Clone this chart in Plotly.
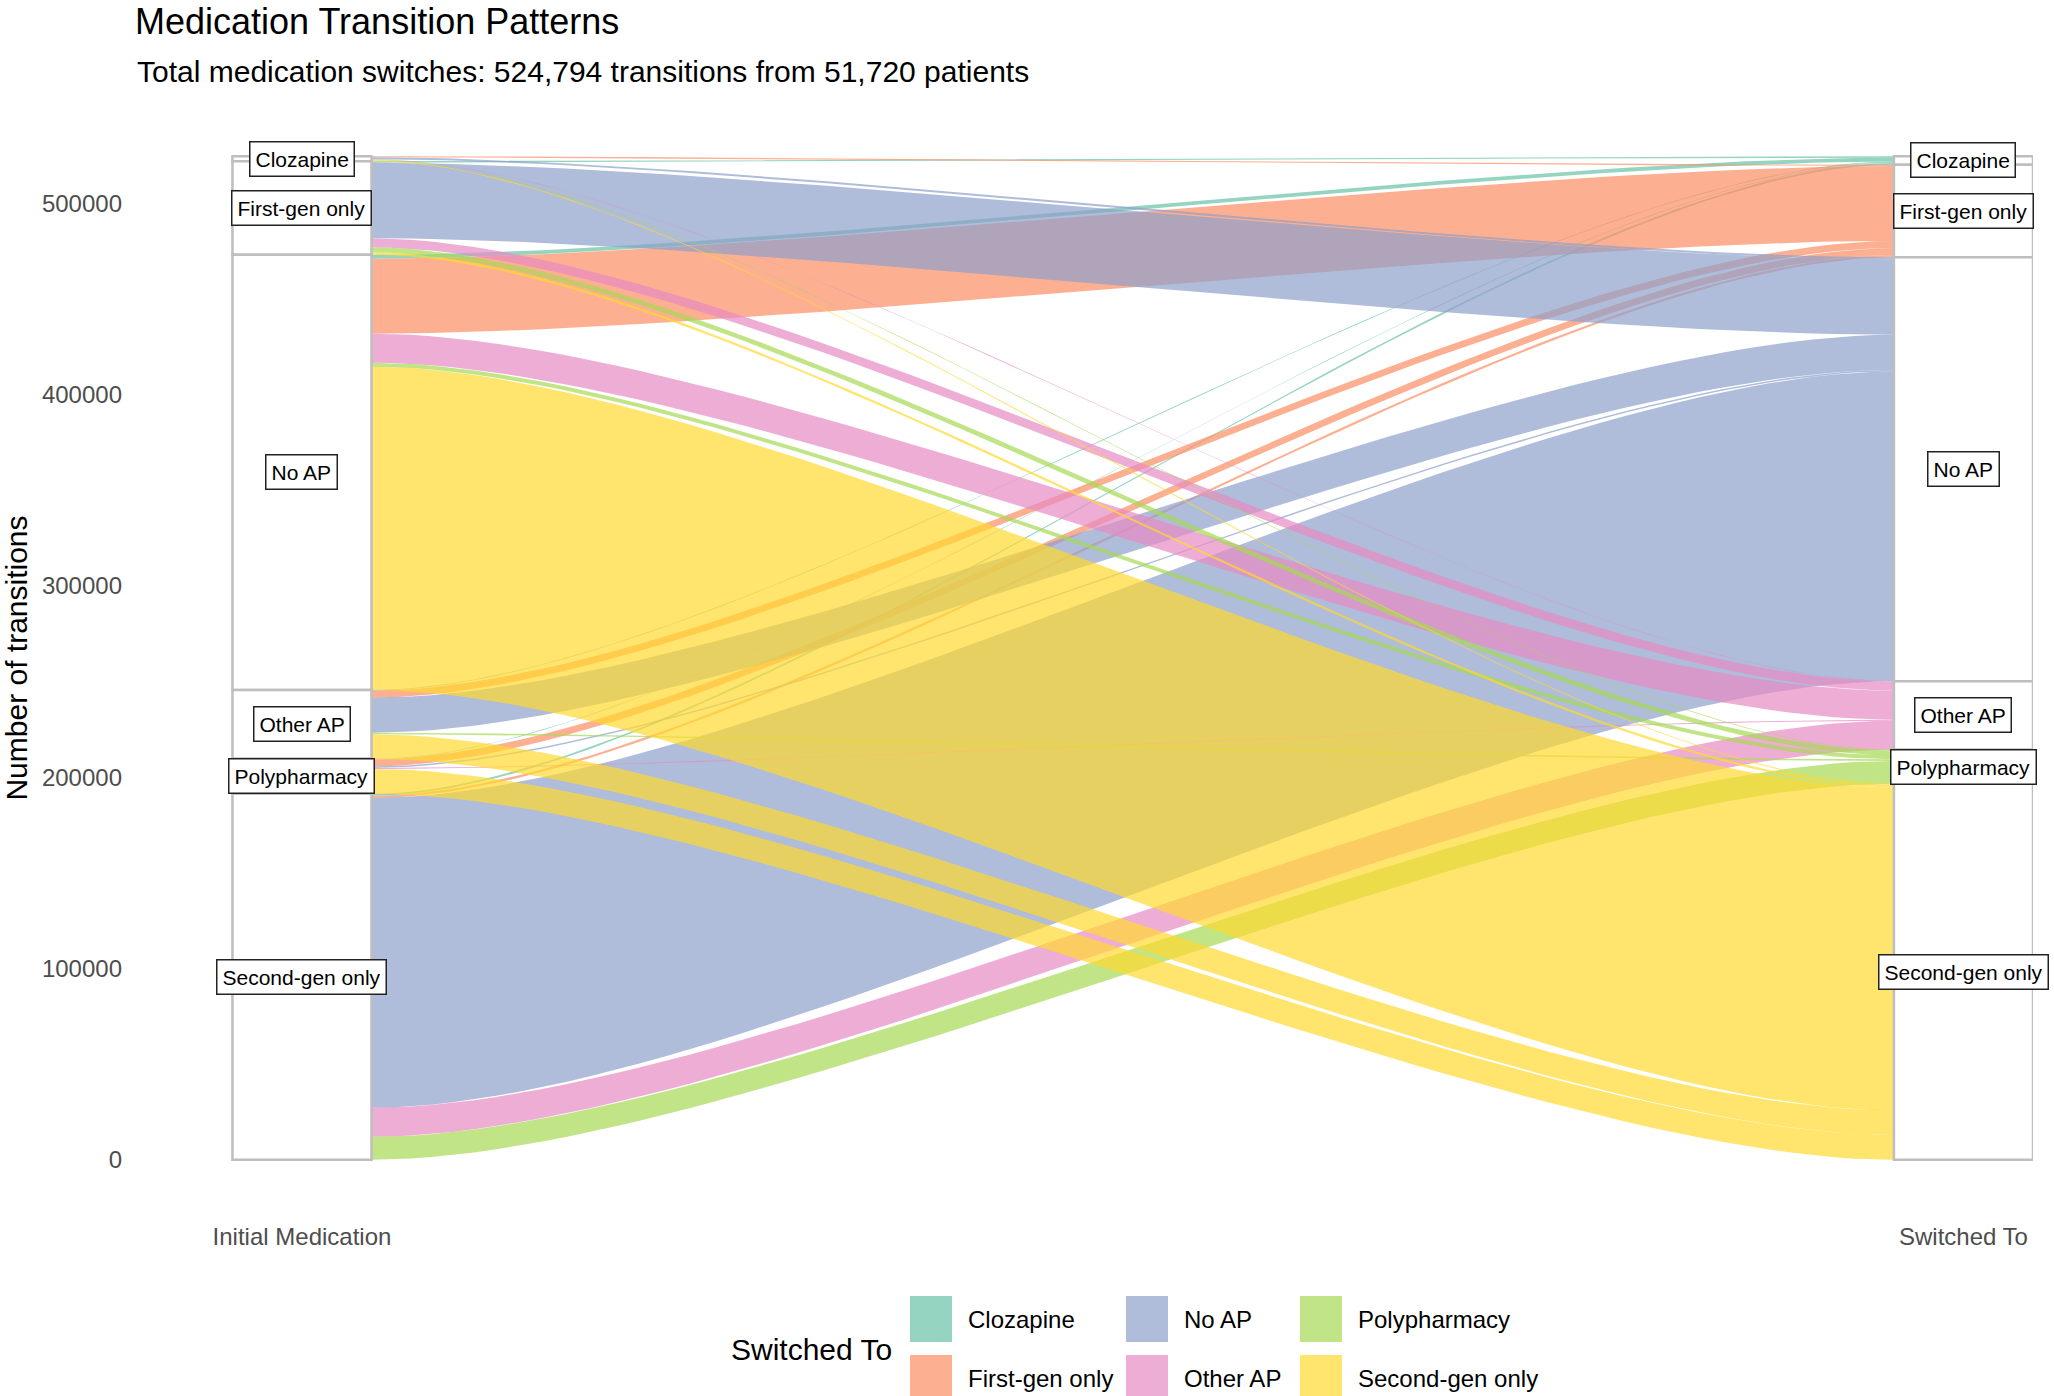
import plotly.graph_objects as go

# ---------------- data ----------------
categories = ["Clozapine", "First-gen only", "No AP", "Other AP", "Polypharmacy", "Second-gen only"]
colors = ["#66C2A5", "#FC8D62", "#8DA0CB", "#E78AC3", "#A6D854", "#FFD92F"]

# transitions from each initial medication to each "switched to" category (order = categories)
from_clozapine = [0, 600, 1000, 200, 300, 500]
from_first_gen = [800, 0, 39500, 4800, 2600, 1300]
from_no_ap = [2000, 39200, 0, 15200, 2100, 169000]
from_other_ap = [400, 3700, 18300, 0, 800, 12800]
from_polypharmacy = [300, 3700, 800, 500, 0, 13000]
from_second_gen = [1000, 1200, 162000, 15200, 12000, 0]

axis_labels = ["Initial Medication", "Switched To"]
y_ticks = [0, 100000, 200000, 300000, 400000, 500000]

title_text = "Medication Transition Patterns"
subtitle_text = "Total medication switches: 524,794 transitions from 51,720 patients"
legend_title = "Switched To"
legend_rows = [["Clozapine", "No AP", "Polypharmacy"],
               ["First-gen only", "Other AP", "Second-gen only"]]

# ---------------- geometry helpers ----------------
rows = [from_clozapine, from_first_gen, from_no_ap, from_other_ap, from_polypharmacy, from_second_gen]
n = len(categories)
W = 0.0837  # stratum width (x units)
total = sum(sum(r) for r in rows)
src_tot = [sum(r) for r in rows]
tgt_tot = [sum(rows[i][j] for i in range(n)) for j in range(n)]


def stack_tops(tots):
    out, cur = [], total
    for v in tots:
        out.append(cur)
        cur -= v
    return out


src_top = stack_tops(src_tot)
tgt_top = stack_tops(tgt_tot)

left_top = {}
for i in range(n):
    cur = src_top[i]
    for j in range(n):
        left_top[(i, j)] = cur
        cur -= rows[i][j]
right_top = {}
for j in range(n):
    cur = tgt_top[j]
    for i in range(n):
        right_top[(i, j)] = cur
        cur -= rows[i][j]


def rgba(hexc, a):
    h = hexc.lstrip("#")
    r, g, b = int(h[0:2], 16), int(h[2:4], 16), int(h[4:6], 16)
    return f"rgba({r},{g},{b},{a})"


def curve(x0, y0, x1, y1, k=0.25, m=60):
    xs, ys = [], []
    dx = x1 - x0
    for s in range(m + 1):
        t = s / m
        bx = 3 * k * t * (1 - t) ** 2 + 3 * (1 - k) * t ** 2 * (1 - t) + t ** 3
        by = 3 * t ** 2 - 2 * t ** 3
        xs.append(x0 + dx * bx)
        ys.append(y0 + (y1 - y0) * by)
    return xs, ys


fig = go.Figure()
xL, xR = 1 + W / 2, 2 - W / 2
for j in range(n):
    for i in range(n):
        v = rows[i][j]
        if v <= 0:
            continue
        lt, rt = left_top[(i, j)], right_top[(i, j)]
        ux, uy = curve(xL, lt, xR, rt)
        bx, by = curve(xL, lt - v, xR, rt - v)
        xs = ux + bx[::-1] + [ux[0]]
        ys = uy + by[::-1] + [uy[0]]
        fig.add_trace(go.Scatter(
            x=xs, y=ys, mode="lines", fill="toself",
            fillcolor=rgba(colors[j], 0.7), line=dict(width=0),
            hoverinfo="text", text=f"{categories[i]} → {categories[j]}: {v:,}",
            showlegend=False))

# strata
shapes = []
annotations = []
for side, (tops, tots) in enumerate([(src_top, src_tot), (tgt_top, tgt_tot)]):
    xc = 1 + side
    for k in range(n):
        shapes.append(dict(type="rect", xref="x", yref="y",
                           x0=xc - W / 2, x1=xc + W / 2, y0=tops[k] - tots[k], y1=tops[k],
                           line=dict(color="#BEBEBE", width=2.5), fillcolor="white", layer="above"))
        annotations.append(dict(x=xc, y=tops[k] - tots[k] / 2, xref="x", yref="y",
                                text=categories[k], showarrow=False,
                                font=dict(size=21, color="black"),
                                bgcolor="white", bordercolor="#222222", borderwidth=1.5,
                                borderpad=5))

# pixel -> paper helpers for layout placement
PL, PR, PT, PB = 135, 2033, 106, 1210


def px_x(x):
    return (x - PL) / (PR - PL)


def px_y(y):
    return (PB - y) / (PB - PT)


# subtitle
annotations.append(dict(x=0, y=px_y(71), xref="paper", yref="paper", xanchor="left", yanchor="middle",
                        text=subtitle_text, showarrow=False, font=dict(size=30, color="black")))

# manual legend
col_x = [910, 1126, 1300]
row_y = [1319, 1378]
for r, names in enumerate(legend_rows):
    for c, name in enumerate(names):
        idx = categories.index(name)
        shapes.append(dict(type="rect", xref="paper", yref="paper",
                           x0=px_x(col_x[c]), x1=px_x(col_x[c] + 42),
                           y0=px_y(row_y[r] + 23), y1=px_y(row_y[r] - 23),
                           line=dict(width=0), fillcolor=rgba(colors[idx], 0.7), layer="above"))
        annotations.append(dict(x=px_x(col_x[c] + 56), y=px_y(row_y[r]), xref="paper", yref="paper",
                                xanchor="left", yanchor="middle", text=name, showarrow=False,
                                font=dict(size=24, color="black")))
annotations.append(dict(x=px_x(729), y=px_y(1349), xref="paper", yref="paper",
                        xanchor="left", yanchor="middle", text=legend_title, showarrow=False,
                        font=dict(size=30, color="black")))

pad = total * 0.05
fig.update_layout(
    width=2054, height=1396,
    margin=dict(l=PL, r=2054 - PR, t=PT, b=1396 - PB),
    paper_bgcolor="white", plot_bgcolor="white",
    font=dict(family="Liberation Sans, Arial, sans-serif", color="black"),
    title=dict(text=title_text, x=0, xref="paper", xanchor="left",
               y=1 - 21 / 1396, yref="container", yanchor="middle",
               font=dict(size=36, color="black")),
    showlegend=False,
    shapes=shapes, annotations=annotations,
    xaxis=dict(range=[1 - 0.1005, 2 + W / 2], tickvals=[1, 2], ticktext=axis_labels,
               showgrid=False, zeroline=False, showline=False, ticks="",
               ticklabelstandoff=10, tickfont=dict(size=24, color="#4D4D4D")),
    yaxis=dict(range=[-pad, total + pad], tickvals=y_ticks, ticktext=[str(v) for v in y_ticks],
               showgrid=False, zeroline=False, showline=False, ticks="",
               ticklabelstandoff=12, tickfont=dict(size=24, color="#4D4D4D"),
               title=dict(text="Number of transitions", font=dict(size=30, color="black"), standoff=8)),
)

fig.write_html("out.html")
